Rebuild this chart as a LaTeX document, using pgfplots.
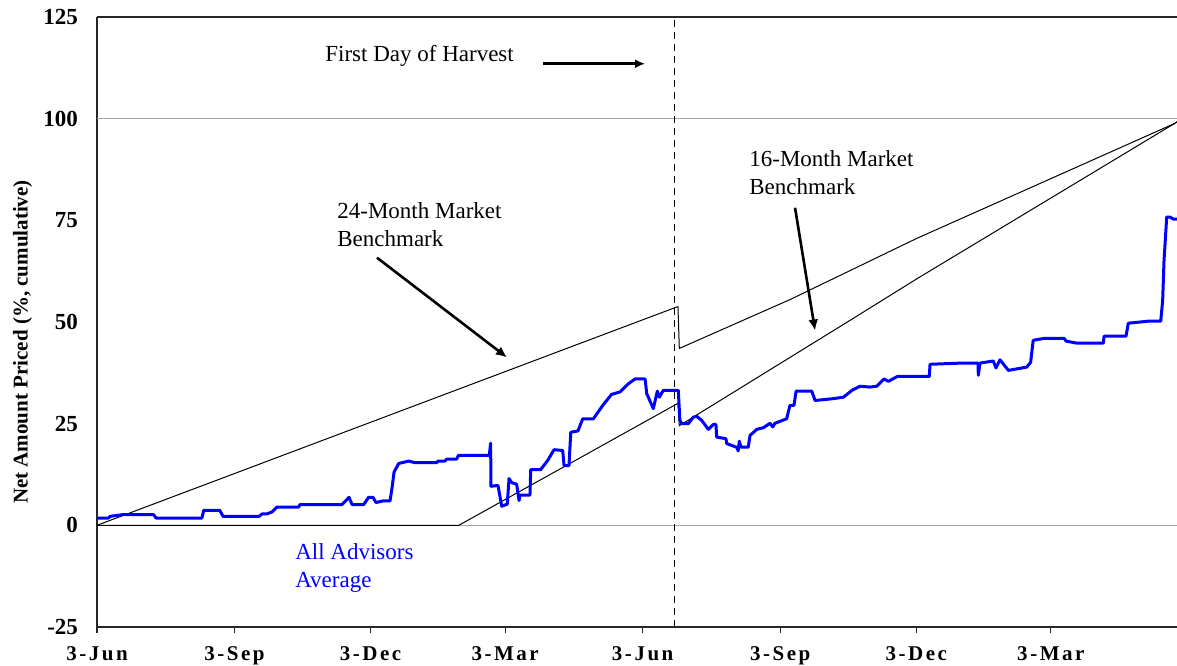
\documentclass[border=0pt]{standalone}
\usepackage{pgfplots}
\pgfplotsset{compat=1.18}
\usepackage{pgfplotstable}
\usepackage{fontspec}
\setmainfont{Liberation Serif}
\newfontfamily\spaced[LetterSpace=12]{Liberation Serif}
\usetikzlibrary{arrows.meta}

\definecolor{advblue}{RGB}{0,0,255}

% x = days after 3-Jun (first year)
\pgfplotstableread{
day val
0 0
388.6 53.8
389.5 43.5
463.5 55.5
548 70.5
720.7 98.8
722.4 99.2
}\bmtwentyfour

\pgfplotstableread{
day val
0 0
242 0
388.6 30.0
389.5 24.5
503.7 50.4
548.3 60.6
720.7 98.8
722.4 99.2
}\bmsixteen

\pgfplotstableread{
day val
0 1.8
7.8 1.8
8.7 2.2
16.7 2.6
37.9 2.6
39.5 1.8
70.2 1.8
71.4 3.7
82.1 3.7
84.3 2.2
108.4 2.2
110.4 2.8
113.7 2.8
117.1 3.3
120.4 4.5
134.9 4.5
135.8 5.1
163.9 5.1
168.6 6.9
170.6 5.1
178.4 5.1
181.7 6.9
184.6 6.9
186.6 5.6
191.3 6.0
196.0 6.0
197.3 9.1
198.7 13.1
201.8 15.2
208.5 15.8
212.7 15.4
227.2 15.4
228.1 15.8
232.8 15.8
233.9 16.3
240.6 16.3
241.7 17.2
262.4 17.2
263.3 20.2
263.5 9.6
268.2 9.8
269.6 7.0
270.7 4.7
274.4 5.2
275.6 11.5
277.4 10.5
280.7 10.1
282.3 6.1
282.9 7.4
289.6 7.4
290.1 13.7
296.8 13.7
301.7 16.1
305.7 18.6
311.5 18.4
312.4 14.7
315.7 14.7
316.9 22.9
321.7 23.2
324.9 26.2
332.0 26.2
338.7 29.7
344.2 32.2
349.8 32.8
355.4 34.8
359.9 36.0
366.6 36.0
367.7 32.4
372.1 28.7
374.8 33.0
376.1 31.5
378.8 33.2
388.8 33.2
389.9 25.8
391.1 25.0
395.5 25.0
398.9 26.6
401.1 26.8
404.5 25.8
408.9 23.6
412.2 24.8
414.0 24.8
414.5 21.7
420.7 21.3
421.2 20.1
427.8 19.2
428.9 18.3
429.6 20.7
430.8 19.2
435.6 19.2
436.8 22.1
441.3 23.6
445.7 24.0
450.2 25.1
452.0 24.2
453.5 25.1
461.3 26.2
463.5 29.5
466.2 29.5
467.6 33.0
478.1 33.0
480.3 30.7
491.4 31.1
499.2 31.5
505.4 33.3
510.4 34.2
517.1 34.0
521.5 34.2
526.4 36.0
529.3 35.4
535.3 36.6
556.7 36.6
557.2 39.6
578.4 39.9
589.3 39.9
589.5 36.9
590.6 39.9
599.5 40.4
601.3 38.7
604.0 40.7
609.6 38.1
621.9 38.9
624.5 40.1
626.2 45.5
634.1 46.0
646.8 46.0
648.2 45.3
655.3 44.8
673.1 44.8
673.6 46.5
688.3 46.5
689.8 49.7
703.2 50.2
711.5 50.2
712.8 55.3
713.7 65.0
715.5 75.8
717.7 75.8
719.9 75.3
722.4 75.3
}\advisors

\begin{document}
\begin{tikzpicture}
\begin{axis}[
  width=540pt, height=305pt, scale only axis,
  xmin=0, xmax=722.4, ymin=-25, ymax=125,
  axis x line*=bottom, axis y line*=left,
  axis line style={line width=1pt, black!85},
  xtick={0,92,183,273,365,457,548,638},
  xticklabels={3-Jun,3-Sep,3-Dec,3-Mar,3-Jun,3-Sep,3-Dec,3-Mar},
  ytick={-25,0,25,50,75,100,125},
  yticklabels={-25,0,25,50,75,100,125},
  tick align=outside,
  major tick length=3pt,
  xtick style={draw=black!85, line width=0.6pt},
  ytick style={draw=none},
  xticklabel style={font=\spaced\bfseries\fontsize{10.5}{12}\selectfont, yshift=-3.5pt},
  yticklabel style={font=\bfseries\fontsize{11.5}{13}\selectfont, xshift=-3pt},
  ylabel={Net Amount Priced (\%, cumulative)},
  ylabel style={font=\bfseries\fontsize{10.5}{12}\selectfont,
    at={(axis description cs:-0.069,0.467)}, anchor=center},
  extra y ticks={0,100},
  extra y tick labels={},
  extra y tick style={ymajorgrids=true, major grid style={gray!70, line width=0.8pt}},
]
\draw[line width=1pt, black!85] (rel axis cs:0,1) -- (rel axis cs:1,1);

% harvest marker
\addplot[black, line width=0.5pt, dash pattern=on 3.5pt off 2.5pt] coordinates {(386,-25) (386,125)};

\addplot[black, line width=0.5pt] table[x=day, y=val] {\bmsixteen};
\addplot[black, line width=0.5pt] table[x=day, y=val] {\bmtwentyfour};
\addplot[advblue, line width=1.5pt, line join=round] table[x=day, y=val] {\advisors};

% annotations
\node[anchor=west, font=\fontsize{11.5}{14}\selectfont, inner sep=0pt] at (axis cs:152.5,115.5) {First Day of Harvest};
\draw[line width=1.3pt, -{Latex[length=5pt,width=4.5pt]}] (axis cs:298.3,113.5) -- (axis cs:366.6,113.5);

\node[anchor=west, align=left, font=\fontsize{11.5}{14}\selectfont, inner sep=0pt] at (axis cs:160.5,74.0) {24-Month Market\\Benchmark};
\draw[line width=1.3pt, -{Latex[length=5.5pt,width=5pt]}] (axis cs:187.3,65.8) -- (axis cs:274.2,41.3);

\node[anchor=west, align=left, font=\fontsize{11.5}{14}\selectfont, inner sep=0pt] at (axis cs:436.1,86.7) {16-Month Market\\Benchmark};
\draw[line width=1.3pt, -{Latex[length=5.5pt,width=5pt]}] (axis cs:466.9,78.1) -- (axis cs:480.3,47.9);

\node[anchor=west, align=left, text=advblue, font=\fontsize{11.5}{14}\selectfont, inner sep=0pt] at (axis cs:132.4,-10.4) {All Advisors\\Average};
\end{axis}
\pgfresetboundingbox
\path[use as bounding box] ([xshift=-48.5pt,yshift=-19.5pt]current axis.south west) rectangle ([yshift=8.5pt]current axis.north east);
\end{tikzpicture}
\end{document}
